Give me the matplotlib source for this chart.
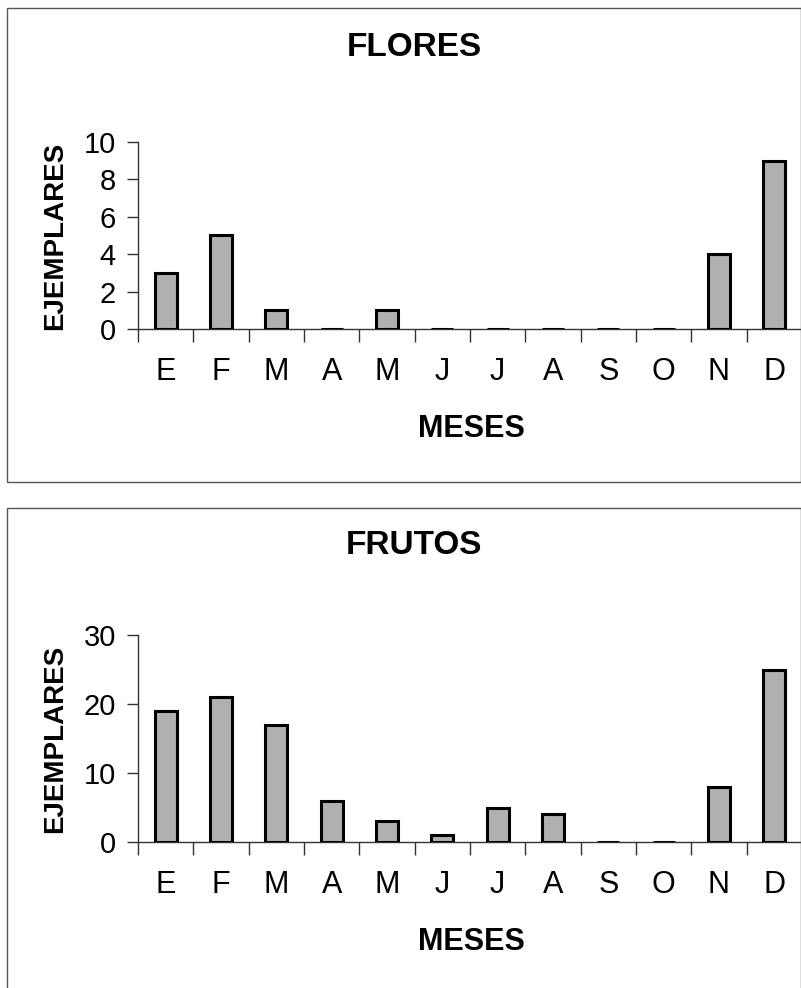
import matplotlib
matplotlib.use("Agg")
import matplotlib.pyplot as plt
from matplotlib.patches import Rectangle
import numpy as np

meses = ["E", "F", "M", "A", "M", "J", "J", "A", "S", "O", "N", "D"]
flores = [3, 5, 1, 0, 1, 0, 0, 0, 0, 0, 4, 9]
frutos = [19, 21, 17, 6, 3, 1, 5, 4, 0, 0, 8, 25]
flores_yticks = [0, 2, 4, 6, 8, 10]
frutos_yticks = [0, 10, 20, 30]

W, H = 801, 988
fig = plt.figure(figsize=(W / 100, H / 100), dpi=100)
fig.patch.set_facecolor("white")

FONT = ["Liberation Sans", "DejaVu Sans"]


def fx(x):
    return x / W


def fy(y):
    return 1 - y / H


def box(x0, y0, x1, y1):
    fig.add_artist(Rectangle((fx(x0), fy(y1)), fx(x1) - fx(x0), fy(y0) - fy(y1),
                             transform=fig.transFigure, fill=False,
                             edgecolor="#555555", linewidth=1.0))


def panel(vals, yticks, ytop, ybot, title, title_y, lab_y, box_top, box_bot):
    left, right = 138, 802
    ax = fig.add_axes([fx(left), fy(ybot), fx(right) - fx(left), fy(ytop) - fy(ybot)])
    x = np.arange(len(vals))
    ax.bar(x, vals, width=0.4, color="#b0b0b0", edgecolor="black", linewidth=2.2, zorder=3)
    ax.set_xlim(-0.5, len(vals) - 0.5)
    ax.set_ylim(yticks[0], yticks[-1])
    ax.set_yticks(yticks)
    ax.set_yticklabels([str(t) for t in yticks], fontsize=21, family=FONT)
    ax.set_xticks(x)
    ax.set_xticklabels(meses, fontsize=22, family=FONT)
    ax.set_xticks(np.arange(len(vals) + 1) - 0.5, minor=True)
    ax.tick_params(axis="x", which="major", length=0, pad=20)
    ax.tick_params(axis="x", which="minor", length=9, width=1, color="#333333", direction="out")
    ax.tick_params(axis="y", length=8, width=1, color="#333333", direction="out", pad=8)
    for s in ["top", "right"]:
        ax.spines[s].set_visible(False)
    for s in ["left", "bottom"]:
        ax.spines[s].set_linewidth(1.0)
        ax.spines[s].set_color("#333333")
    ax.set_ylabel("")
    fig.text(fx(55), fy((ytop + ybot) / 2), "EJEMPLARES", fontsize=20, fontweight="bold",
             family=FONT, rotation=90, ha="center", va="center")
    fig.text(fx(414), fy(title_y), title, fontsize=24, fontweight="bold", family=FONT,
             ha="center", va="center")
    fig.text(fx(471), fy(lab_y), "MESES", fontsize=22, fontweight="bold", family=FONT,
             ha="center", va="center")
    box(7, box_top, 801, box_bot)
    return ax


panel(flores, flores_yticks, 142, 329, "FLORES", 47, 429, 8, 482)
panel(frutos, frutos_yticks, 635, 842, "FRUTOS", 545, 942, 508, 995)

fig.savefig("out.png", dpi=100, facecolor="white")
